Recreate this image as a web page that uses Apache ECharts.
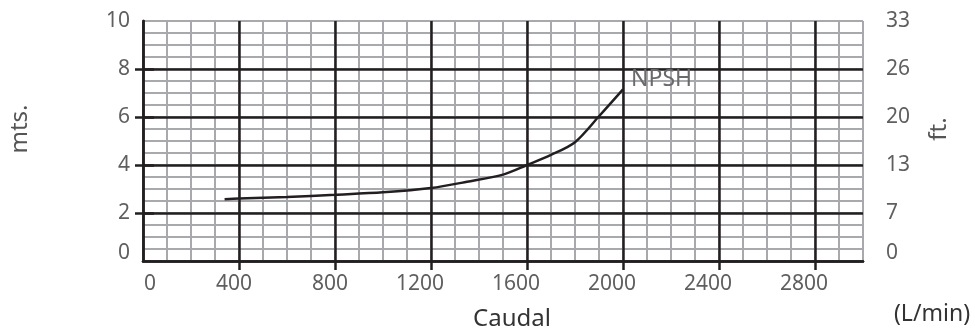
<!DOCTYPE html>
<html><head><meta charset="utf-8">
<script src="https://cdn.jsdelivr.net/npm/echarts@6/dist/echarts.min.js"></script>
<style>html,body{margin:0;padding:0;background:#fff}#c{width:975px;height:334px}</style>
</head><body><div id="c"></div>
<script>
// ---- data ----
const flowLpm = [340, 400, 600, 800, 1000, 1200, 1350, 1500, 1600, 1700, 1800, 1900, 2000];
const npshM   = [2.57, 2.60, 2.67, 2.76, 2.86, 3.04, 3.30, 3.60, 4.00, 4.42, 4.95, 6.03, 7.15];
const seriesName = 'NPSH';
const xLabelValues = [0, 400, 800, 1200, 1600, 2000, 2400, 2800];
const xTickValues = [400, 800, 1200, 1600, 2000, 2400, 2800];
const yTickValues = [2, 4, 6, 8];
const mLabels = ['0', '2', '4', '6', '8', '10'];
const ftLabels = ['0', '7', '13', '20', '26', '33'];
const xTitle = 'Caudal';
const xUnit = '(L/min)';
const yLeftTitle = 'mts.';
const yRightTitle = 'ft.';

// ---- styling ----
const DARK = '#231f20';
const GRAY = '#a7a9ac';
const LBL = '#5f5f5f';
const FONT = 'Noto Sans';

const chart = echarts.init(document.getElementById('c'), null, {renderer: 'canvas'});
const yLabel = (arr) => (v) => {
  const t = arr[Math.round(v / 2)];
  return v === 0 ? '{lift|' + t + '}' : t;
};
const option = {
  animation: false,
  backgroundColor: '#fff',
  grid: {left: 143, top: 21, width: 720, height: 240, containLabel: false},
  xAxis: [
    {type: 'value', min: 0, max: 3000, interval: 100, z: 0,
     axisLine: {show: false}, axisTick: {show: false}, axisLabel: {show: false},
     splitLine: {show: true, lineStyle: {color: GRAY, width: 2}}},
    {type: 'value', min: 0, max: 3000, interval: 400, z: 1, position: 'bottom',
     axisLine: {show: true, lineStyle: {color: DARK, width: 2.5}},
     axisTick: {show: true, customValues: xTickValues, length: 9, lineStyle: {color: DARK, width: 2.5}},
     axisLabel: {show: true, customValues: xLabelValues, align: 'center', margin: 13,
       color: LBL, fontSize: 21, fontFamily: FONT,
       formatter: (v) => '{r|' + v + '}',
       rich: {r: {width: 26, align: 'right', color: LBL, fontSize: 21, fontFamily: FONT}}},
     splitLine: {show: true, lineStyle: {color: DARK, width: 2.5}}},
    {type: 'value', min: 0, max: 3000, interval: 400, z: 1, position: 'top',
     axisLine: {show: true, lineStyle: {color: DARK, width: 2.5}},
     axisTick: {show: false}, axisLabel: {show: false}, splitLine: {show: false}}
  ],
  yAxis: [
    {type: 'value', min: 0, max: 10, interval: 0.5, z: 0,
     axisLine: {show: false}, axisTick: {show: false}, axisLabel: {show: false},
     splitLine: {show: true, lineStyle: {color: GRAY, width: 2}}},
    {type: 'value', min: 0, max: 10, interval: 2, z: 1, position: 'left',
     axisLine: {show: true, lineStyle: {color: DARK, width: 2.5}},
     axisTick: {show: true, customValues: yTickValues, length: 8, lineStyle: {color: DARK, width: 2.5}},
     axisLabel: {show: true, margin: 13, color: LBL, fontSize: 21, fontFamily: FONT,
       formatter: yLabel(mLabels),
       rich: {lift: {padding: [0, 0, 16, 0], color: LBL, fontSize: 21, fontFamily: FONT}}},
     splitLine: {show: true, lineStyle: {color: DARK, width: 2.5}}},
    {type: 'value', min: 0, max: 10, interval: 2, z: 1, position: 'right',
     axisLine: {show: true, lineStyle: {color: DARK, width: 2.5}},
     axisTick: {show: true, inside: false, customValues: yTickValues, length: 11, lineStyle: {color: DARK, width: 2.5}},
     axisLabel: {show: true, margin: 23, color: LBL, fontSize: 21, fontFamily: FONT,
       formatter: yLabel(ftLabels),
       rich: {lift: {padding: [0, 0, 16, 0], color: LBL, fontSize: 21, fontFamily: FONT}}},
     splitLine: {show: false}}
  ],
  series: [{
    name: seriesName, type: 'line', xAxisIndex: 1, yAxisIndex: 1, z: 5,
    data: flowLpm.map((x, i) => [x, npshM[i]]),
    smooth: 0.3, showSymbol: false, symbol: 'none',
    lineStyle: {color: DARK, width: 2.5},
    endLabel: {show: true, formatter: seriesName, color: '#6b6b6b', fontSize: 23,
      fontFamily: FONT, distance: 8, offset: [0, -10]}
  }],
  graphic: [
    {type: 'text', x: 20, y: 129, rotation: Math.PI / 2,
     style: {text: yLeftTitle, fill: '#555', fontSize: 24, fontFamily: FONT, align: 'center', verticalAlign: 'middle'}},
    {type: 'text', x: 939, y: 129, rotation: Math.PI / 2,
     style: {text: yRightTitle, fill: '#555', fontSize: 24, fontFamily: FONT, align: 'center', verticalAlign: 'middle'}},
    {type: 'text', x: 512, y: 319,
     style: {text: xTitle, fill: '#333', fontSize: 24, fontFamily: FONT, align: 'center', verticalAlign: 'middle'}},
    {type: 'text', x: 932, y: 314,
     style: {text: xUnit, fill: '#333', fontSize: 23, fontFamily: FONT, align: 'center', verticalAlign: 'middle'}}
  ]
};
chart.setOption(option);
</script>
</body></html>
